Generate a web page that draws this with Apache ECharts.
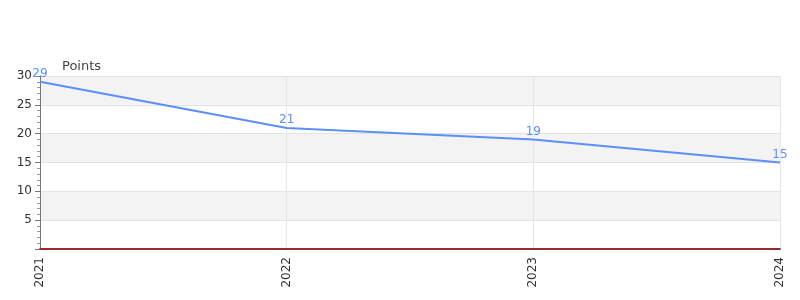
<!DOCTYPE html>
<html><head><meta charset="utf-8">
<script src="https://cdn.jsdelivr.net/npm/echarts@6/dist/echarts.min.js"></script>
<style>html,body{margin:0;padding:0;background:#fff}#c{width:800px;height:300px}</style>
</head><body><div id="c"></div>
<script>
const categories = ['2021', '2022', '2023', '2024'];
const points = [29, 21, 19, 15];
const baseline = [0, 0, 0, 0];
const yName = 'Points';

const chart = echarts.init(document.getElementById('c'), null, {renderer: 'canvas'});
chart.setOption({
  animation: false,
  grid: {left: 40, right: 20, top: 76, bottom: 51, containLabel: false},
  xAxis: {
    type: 'category', data: categories, boundaryGap: false,
    axisLine: {lineStyle: {color: '#555', width: 2}},
    axisTick: {show: false},
    axisLabel: {rotate: 90, color: '#333', fontSize: 12, fontFamily: 'DejaVu Sans', margin: 8},
    splitLine: {show: true, lineStyle: {color: '#e6e6e6'}}
  },
  yAxis: {
    type: 'value', min: 0, max: 30, interval: 5,
    name: yName, nameLocation: 'end', nameGap: 3,
    nameTextStyle: {color: '#444', fontSize: 13, fontFamily: 'DejaVu Sans', align: 'left', padding: [0, 0, 0, 22]},
    axisLine: {show: true, lineStyle: {color: '#777'}},
    axisTick: {show: true, length: 5, lineStyle: {color: '#777'}},
    minorTick: {show: true, splitNumber: 5, length: 3, lineStyle: {color: '#999'}},
    axisLabel: {showMinLabel: false, color: '#333', fontSize: 12, fontFamily: 'DejaVu Sans', margin: 8},
    splitLine: {show: true, lineStyle: {color: '#e3e3e3'}},
    splitArea: {show: true, areaStyle: {color: ['#ffffff', '#f3f3f3']}}
  },
  series: [{
    type: 'line', data: points, showSymbol: true, symbol: 'circle', symbolSize: 0.01,
    clip: false, z: 5,
    lineStyle: {color: '#5b8ff9', width: 2},
    itemStyle: {color: '#5b8ff9'},
    label: {show: true, position: 'top', color: '#5b8ff9', fontSize: 12, fontFamily: 'DejaVu Sans', distance: 2}
  }, {
    type: 'line', data: baseline, symbol: 'none', clip: false, z: 10, silent: true,
    lineStyle: {color: '#e00000', width: 1}
  }]
});
</script></body></html>
